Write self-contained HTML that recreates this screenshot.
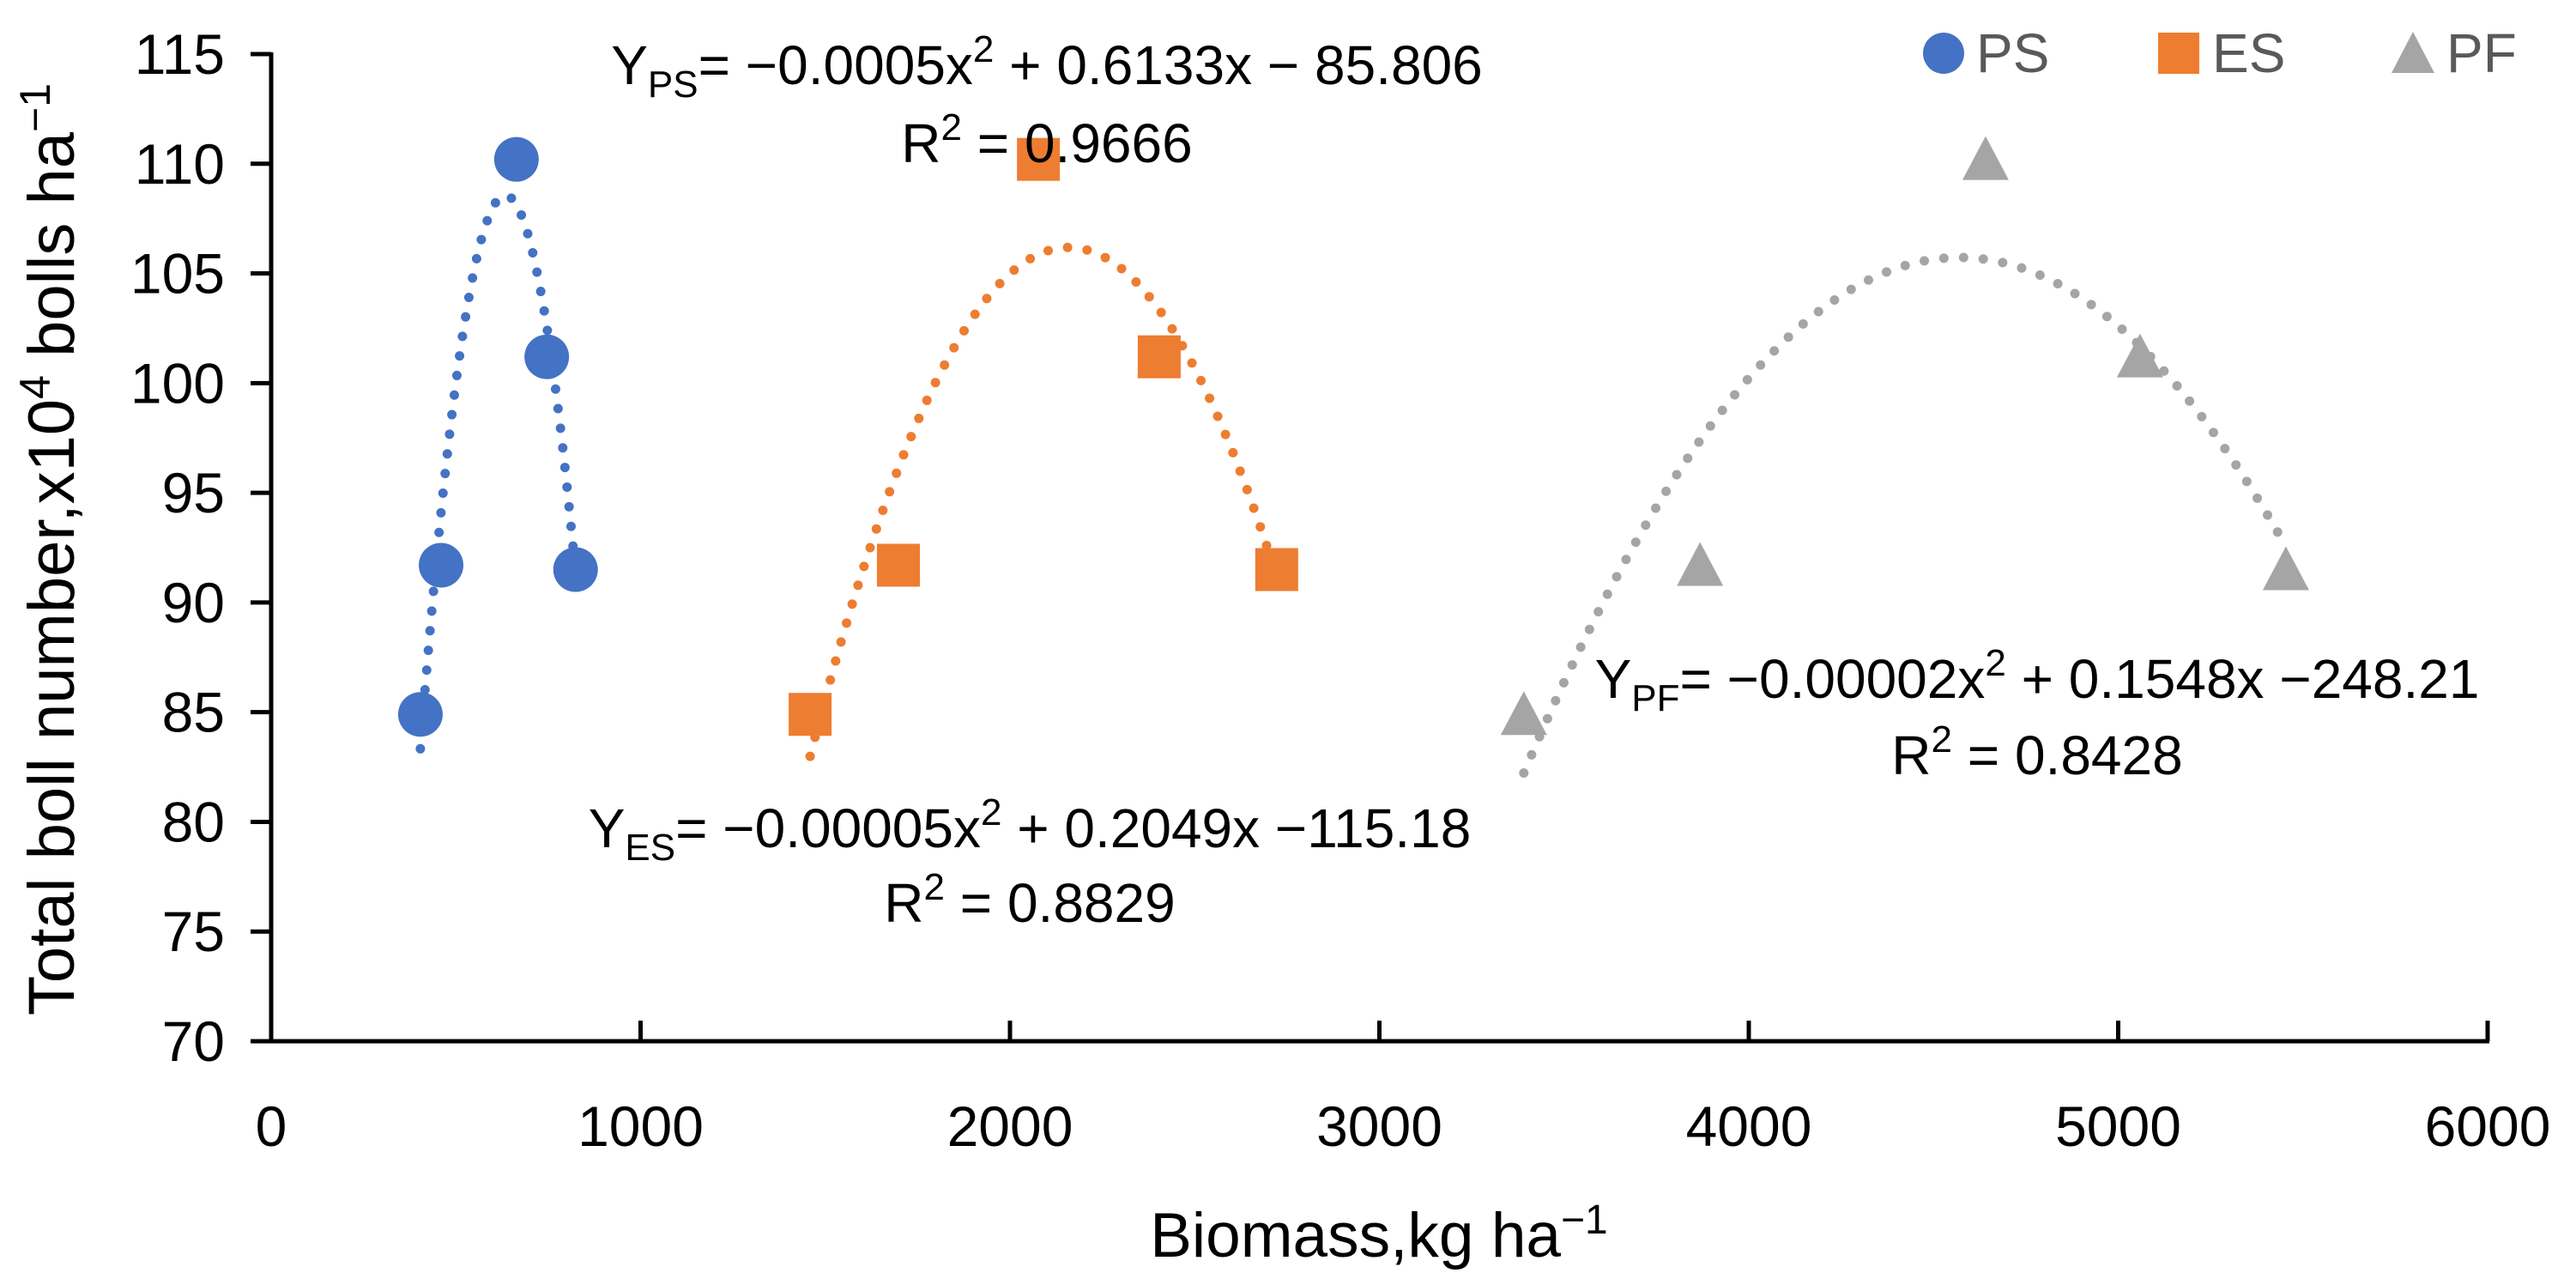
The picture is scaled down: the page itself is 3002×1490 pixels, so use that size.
<!DOCTYPE html>
<html><head><meta charset="utf-8"><style>
html,body{margin:0;padding:0;background:#fff;}
svg{display:block;font-family:"Liberation Sans",sans-serif;}
</style></head><body>
<svg id="chart" width="3002" height="1490" viewBox="0 0 3002 1490" xmlns="http://www.w3.org/2000/svg">
<rect width="3002" height="1490" fill="#fff"/>
<g id="axes"></g>
<g id="trends"></g>
<g id="marks"></g>
<text transform="translate(86,640) rotate(-90)" text-anchor="middle" font-size="76" fill="#000">Total boll number,x10<tspan dy="-28" font-size="50">4</tspan><tspan dy="28"> bolls ha</tspan><tspan dy="-28" font-size="50">−1</tspan></text>
<text x="1607" y="1464" text-anchor="middle" font-size="73" fill="#000">Biomass,kg ha<tspan dy="-27" font-size="48">−1</tspan></text>
<g font-size="64" fill="#000" text-anchor="middle">
<text x="1220" y="98">Y<tspan font-size="44" dy="15">PS</tspan><tspan dy="-15">= −0.0005x</tspan><tspan font-size="44" dy="-26">2</tspan><tspan dy="26"> + 0.6133x − 85.806</tspan></text>
<text x="1220" y="189">R<tspan font-size="44" dy="-26">2</tspan><tspan dy="26"> = 0.9666</tspan></text>
</g>
<g font-size="64" fill="#000" text-anchor="middle">
<text x="1200" y="987">Y<tspan font-size="44" dy="15">ES</tspan><tspan dy="-15">= −0.00005x</tspan><tspan font-size="44" dy="-26">2</tspan><tspan dy="26"> + 0.2049x −115.18</tspan></text>
<text x="1200" y="1074">R<tspan font-size="44" dy="-26">2</tspan><tspan dy="26"> = 0.8829</tspan></text>
</g>
<g font-size="64" fill="#000" text-anchor="middle">
<text x="2374" y="813">Y<tspan font-size="44" dy="15">PF</tspan><tspan dy="-15">= −0.00002x</tspan><tspan font-size="44" dy="-26">2</tspan><tspan dy="26"> + 0.1548x −248.21</tspan></text>
<text x="2374" y="902">R<tspan font-size="44" dy="-26">2</tspan><tspan dy="26"> = 0.8428</tspan></text>
</g>
<g font-size="64" fill="#595959">
<circle cx="2265" cy="62" r="24" fill="#4472C4"/>
<text x="2303" y="84">PS</text>
<rect x="2515" y="38" width="48" height="48" fill="#ED7D31"/>
<text x="2578" y="84">ES</text>
<polygon points="2812,37 2837,85 2787,85" fill="#A5A5A5"/>
<text x="2851" y="84">PF</text>
</g>
</svg>
<script>
const xTicks=[0,1000,2000,3000,4000,5000,6000];
const yTicks=[70,75,80,85,90,95,100,105,110,115];
const psX=[404,460,664,746,824];
const psY=[84.9,91.7,110.2,101.2,91.5];
const esX=[1459,1698,2077,2404,2722];
const esY=[84.9,91.7,110.2,101.2,91.5];
const pfX=[3391,3868,4641,5059,5454];
const pfY=[84.9,91.7,110.2,101.2,91.5];

const NS="http://www.w3.org/2000/svg";
const X0=316,X1=2899,Y0=1213,Y1=63;
function sx(v){return X0+(v-0)/(6000-0)*(X1-X0);}
function sy(v){return Y0-(v-70)/(115-70)*(Y0-Y1);}
function mk(tag,attrs,parent){const e=document.createElementNS(NS,tag);for(const k in attrs)e.setAttribute(k,attrs[k]);parent.appendChild(e);return e;}
const axes=document.getElementById('axes'),trends=document.getElementById('trends'),marks=document.getElementById('marks');

let e=mk('line',{x1:X0,y1:Y0,x2:X1+2,y2:Y0,stroke:'#000','stroke-width':5},axes);


e=mk('line',{x1:X0,y1:Y1-2,x2:X0,y2:Y0+2,stroke:'#000','stroke-width':5},axes);


xTicks.forEach(t=>{
  const x=sx(t);
  let l=mk('line',{x1:x,y1:Y0,x2:x,y2:Y0-24,stroke:'#000','stroke-width':5},axes);
  
  
  let tx=mk('text',{x:x,y:Y0+122,'text-anchor':'middle','font-size':66,fill:'#000'},axes);
  tx.textContent=t;
  
  
});
yTicks.forEach(t=>{
  const y=sy(t);
  let l=mk('line',{x1:X0-24,y1:y,x2:X0,y2:y,stroke:'#000','stroke-width':5},axes);
  
  
  let tx=mk('text',{x:262,y:y+23,'text-anchor':'end','font-size':66,fill:'#000'},axes);
  tx.textContent=t;
  
  
});

function fitQuad(xs,ys){
  const m=xs.reduce((a,b)=>a+b,0)/xs.length;
  const u=xs.map(x=>(x-m)/1000);
  let S=[[0,0,0],[0,0,0],[0,0,0]],T=[0,0,0];
  u.forEach((x,i)=>{const p=[1,x,x*x];for(let r=0;r<3;r++){T[r]+=p[r]*ys[i];for(let c=0;c<3;c++)S[r][c]+=p[r]*p[c];}});
  const A=S.map((r,i)=>[...r,T[i]]);
  for(let i=0;i<3;i++){let p=A[i][i];for(let j=i;j<4;j++)A[i][j]/=p;for(let k=0;k<3;k++)if(k!==i){const f=A[k][i];for(let j=i;j<4;j++)A[k][j]-=f*A[i][j];}}
  const a=A[0][3],b=A[1][3],c=A[2][3];
  return x=>{const t=(x-m)/1000;return a+b*t+c*t*t;};
}
function series(name,xs,ys,color,shape){
  const f=fitQuad(xs,ys);
  const lo=Math.min(...xs),hi=Math.max(...xs);
  let pts=[];
  for(let i=0;i<=200;i++){const x=lo+(hi-lo)*i/200;pts.push(sx(x).toFixed(1)+','+sy(f(x)).toFixed(1));}
  const pl=mk('polyline',{points:pts.join(' '),fill:'none',stroke:color,'stroke-width':11,'stroke-linecap':'round','stroke-dasharray':'0 23'},trends);
  
  
  xs.forEach((x,i)=>{
    const cx=sx(x),cy=sy(ys[i]);let m;
    if(shape==='circle')m=mk('circle',{cx:cx,cy:cy,r:26,fill:color},marks);
    else if(shape==='square')m=mk('rect',{x:cx-25,y:cy-25,width:50,height:50,fill:color},marks);
    else m=mk('polygon',{points:`${cx},${cy-27} ${cx+27},${cy+24} ${cx-27},${cy+24}`,fill:color},marks);
    
    
  });
}
series('ps',psX,psY,'#4472C4','circle');
series('es',esX,esY,'#ED7D31','square');
series('pf',pfX,pfY,'#A5A5A5','triangle');
</script>
</body></html>
